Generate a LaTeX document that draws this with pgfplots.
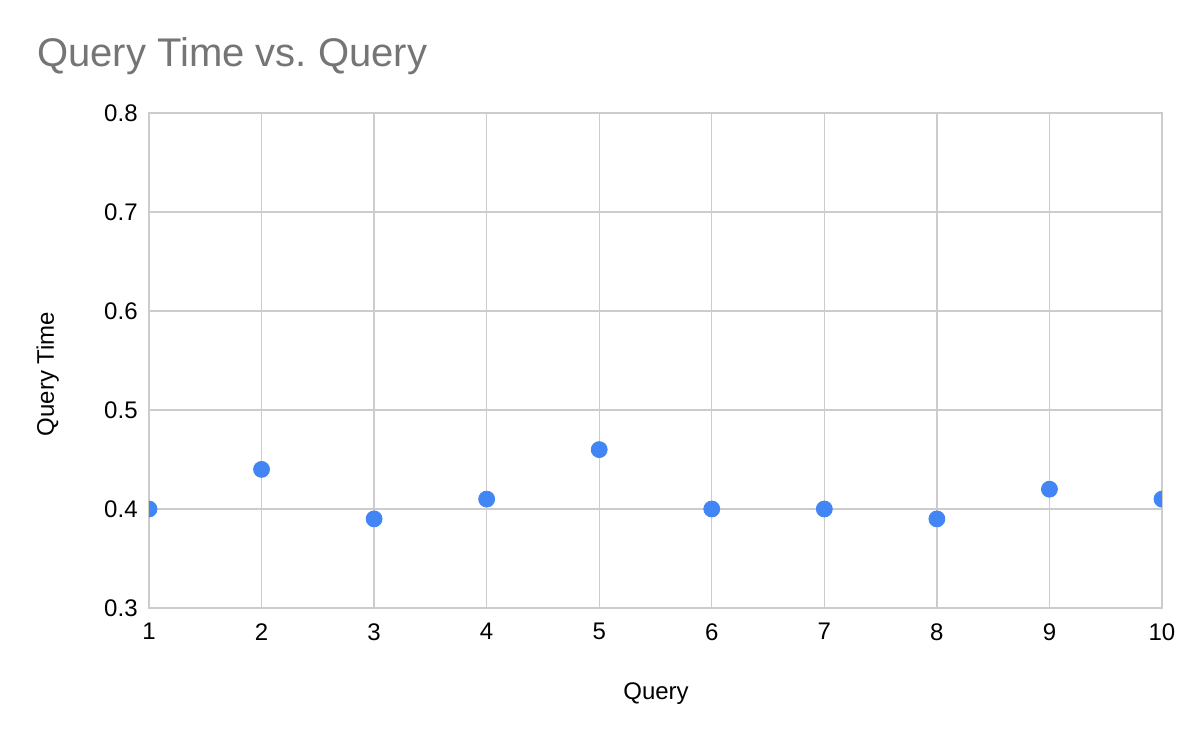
\documentclass[border=0pt]{standalone}
\usepackage{pgfplots}
\pgfplotsset{compat=1.18}
\usepackage{fontspec}
\setmainfont{Liberation Sans}
\frenchspacing
\definecolor{gridgray}{HTML}{CCCCCC}
\definecolor{titlegray}{HTML}{757575}
\definecolor{dotblue}{HTML}{4285F4}

\begin{document}
\begin{tikzpicture}
	\useasboundingbox (-74.5bp,-67bp) rectangle (525.5bp,304bp);
	\begin{axis}[
			scale only axis,
			width=506.5bp, height=247.5bp,
			xmin=1, xmax=10,
			ymin=0.3, ymax=0.8,
			xtick={1,...,10},
			ytick={0.3,0.4,0.5,0.6,0.7,0.8},
			yticklabel style={/pgf/number format/fixed, /pgf/number format/precision=1},
			/pgf/number format/assume math mode=true,
			grid=major,
			major grid style={draw=gridgray, line width=0.7bp},
			axis line style={draw=gridgray, line width=0.7bp},
			major tick length=0pt,
			tick style={draw=none},
			clip marker paths=true,
			ticklabel style={font=\fontsize{12bp}{14bp}\selectfont, inner sep=0pt},
			xticklabel style={anchor=north, yshift=-7.5bp},
			yticklabel style={anchor=east, xshift=-5.5bp},
		]
		\addplot[only marks, mark=*, mark size=4bp, draw=dotblue, fill=dotblue]
			coordinates {(1,0.40) (2,0.44) (3,0.39) (4,0.41) (5,0.46) (6,0.40) (7,0.40) (8,0.39) (9,0.42) (10,0.41)};
	\end{axis}
	\node[anchor=base west, inner sep=0pt, text=titlegray, font=\fontsize{20bp}{24bp}\selectfont] at (-56bp,270.5bp) {Query Time vs. Query};
	\node[anchor=base, inner sep=0pt, font=\fontsize{12bp}{14bp}\selectfont] at (253.5bp,-45.5bp) {Query};
	\node[anchor=base, rotate=90, inner sep=0pt, font=\fontsize{12bp}{14bp}\selectfont] at (-47.5bp,117bp) {Query Time};
\end{tikzpicture}
\end{document}
